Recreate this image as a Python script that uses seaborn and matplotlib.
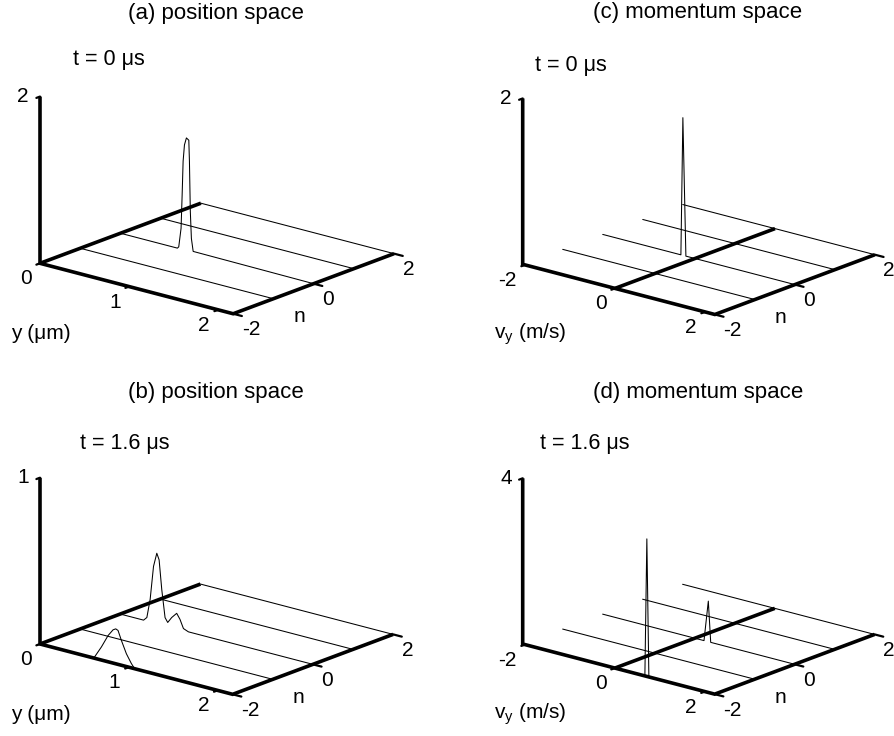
import numpy as np
import matplotlib
matplotlib.use("Agg")
import matplotlib.pyplot as plt
import seaborn as sns
from mpl_toolkits.mplot3d import Axes3D  # noqa: F401

W, H, DPI = 895, 736, 100

# ------------------------------------------------------------------ data
n_orders = [-2, -1, 0, 1, 2]
n_ticks = [-2, 0, 2]

y_lim = [0.0, 2.17]          # position axis (um)
v_lim = [-2.05, 2.22]        # velocity axis (m/s)
y_ticks = [0, 1, 2]
v_ticks = [-2, 0, 2]

flat_y = [0.0, 2.17]
flat_v = [-2.05, 2.22]
flat_z = [0.0, 0.0]

# (a) position space, t = 0 us : peak on the n = 0 line
a_n0_y = [0.0, 0.64, 0.655, 0.681, 0.693, 0.704, 0.719, 0.741, 0.768,
          0.775, 0.785, 0.797, 0.817, 2.17]
a_n0_z = [0.0, 0.0, 0.02, 0.25, 0.65, 1.06, 1.26, 1.35, 1.33,
          1.08, 0.48, 0.16, 0.01, 0.0]

# (b) position space, t = 1.6 us
b_nm2_y = [0.0, 0.60, 0.617, 0.692, 0.767, 0.823, 0.853, 0.879, 0.917,
           0.973, 1.029, 1.066, 2.17]
b_nm2_z = [0.0, 0.0, 0.01, 0.079, 0.158, 0.20, 0.21, 0.204, 0.149,
           0.077, 0.026, 0.0, 0.0]
b_n0_y = [0.0, 0.263, 0.300, 0.337, 0.375, 0.412, 0.438, 0.468, 0.505,
          0.535, 0.580, 0.636, 0.673, 0.712, 0.768, 2.17]
b_n0_z = [0.0, 0.0, 0.021, 0.135, 0.339, 0.423, 0.387, 0.212, 0.049,
          0.024, 0.060, 0.093, 0.062, 0.012, 0.0, 0.0]

# (c) momentum space, t = 0 us
c_n0_v = [-2.05, -0.313, -0.269, -0.202, 2.22]
c_n0_z = [0.0, 0.0, 1.66, 0.0, 0.0]

# (d) momentum space, t = 1.6 us
d_nm2_v = [-2.05, 0.667, 0.711, 0.756, 2.22]
d_nm2_z = [0.0, 0.0, 3.32, 0.0, 0.0]
d_n0_v = [-2.05, 0.204, 0.300, 0.353, 2.22]
d_n0_z = [0.0, 0.0, 0.98, 0.0, 0.0]

z_max = {"a": 2, "b": 1, "c": 2, "d": 4}

# ------------------------------------------------------------------ style
sns.set_theme(style="white")
plt.rcParams["font.family"] = ["Liberation Sans", "DejaVu Sans"]
plt.rcParams["mathtext.fontset"] = "custom"
plt.rcParams["mathtext.rm"] = "Liberation Sans"
plt.rcParams["mathtext.it"] = "Liberation Sans:italic"
ink = sns.color_palette(["#000000"])[0]

FS_TITLE, FS_TIME, FS_TICK, FS_LAB = 16, 15.5, 15, 15
LW_AX, LW_CURVE, LW_TICK = 2.6, 0.75, 1.6

pos_label = "y (\u03bcm)"
mom_label = "v$_\\mathrm{y}$ (m/s)"

panels = [
    dict(key="a", title="(a) position space", time="t = 0 \u03bcs",
         xlim=y_lim, xticks=y_ticks, xlabel=pos_label, axis_at=0.0,
         curves={-2: (flat_y, flat_z), -1: (flat_y, flat_z), 0: (a_n0_y, a_n0_z),
                 1: (flat_y, flat_z), 2: (flat_y, flat_z)},
         corner=(40, 263.3), front_end=(233.3, 313.3),
         title_xy=(215.8, 13), time_xy=(73.3, 64.5)),
    dict(key="b", title="(b) position space", time="t = 1.6 \u03bcs",
         xlim=y_lim, xticks=y_ticks, xlabel=pos_label, axis_at=0.0,
         curves={-2: (b_nm2_y, b_nm2_z), -1: (flat_y, flat_z), 0: (b_n0_y, b_n0_z),
                 1: (flat_y, flat_z), 2: (flat_y, flat_z)},
         corner=(40, 644), front_end=(233.0, 693.0),
         title_xy=(215.8, 392.5), time_xy=(80, 449.3)),
    dict(key="c", title="(c) momentum space", time="t = 0 \u03bcs",
         xlim=v_lim, xticks=v_ticks, xlabel=mom_label, axis_at=0.0,
         curves={-2: (flat_v, flat_z), -1: (flat_v, flat_z), 0: (c_n0_v, c_n0_z),
                 1: (flat_v, flat_z), 2: (flat_v, flat_z)},
         corner=(522.7, 264.3), front_end=(715.0, 314.0),
         title_xy=(697.5, 12.5), time_xy=(535, 70.7)),
    dict(key="d", title="(d) momentum space", time="t = 1.6 \u03bcs",
         xlim=v_lim, xticks=v_ticks, xlabel=mom_label, axis_at=0.0,
         curves={-2: (d_nm2_v, d_nm2_z), -1: (flat_v, flat_z), 0: (d_n0_v, d_n0_z),
                 1: (flat_v, flat_z), 2: (flat_v, flat_z)},
         corner=(522.7, 644), front_end=(715.0, 693.0),
         title_xy=(698, 392.5), time_xy=(540, 449.3)),
]

fig = plt.figure(figsize=(W / DPI, H / DPI), dpi=DPI)
fig.patch.set_facecolor("white")

SIDE0 = 400.0
axes = []
for i, p in enumerate(panels):
    ax = fig.add_axes([0.05 + 0.45 * (i // 2), 0.05, SIDE0 / W, SIDE0 / H],
                      projection="3d", proj_type="ortho")
    ax.patch.set_visible(False)
    ax.set_axis_off()
    zmax = z_max[p["key"]]
    x0, x1 = p["xlim"]
    # waterfall curves
    for n in n_orders:
        xs, zs = p["curves"][n]
        ax.plot(xs, [n] * len(xs), zs, color=ink, lw=LW_CURVE, zorder=2)
    # thick axes: vertical, front (n=-2), right (x = xmax)
    ax.plot([x0, x0, x1, x1], [-2, -2, -2, 2], [zmax, 0, 0, 0],
            color=ink, lw=LW_AX, zorder=3, solid_joinstyle="miter",
            solid_capstyle="butt")
    # n-axis at x = 0
    ax.plot([p["axis_at"]] * 2, [-2, 2], [0, 0], color=ink, lw=LW_AX,
            zorder=3, solid_capstyle="butt")
    # tick marks
    for t in p["xticks"]:
        ax.plot([t, t], [-2, -2.09], [0, 0], color=ink, lw=LW_TICK, zorder=3)
    for t in n_ticks:
        dx = 0.045 * (x1 - x0)
        ax.plot([x1, x1 + dx], [t, t], [0, 0], color=ink, lw=LW_TICK, zorder=3)
    ax.plot([x0, x0], [-2, -2.09], [zmax, zmax], color=ink, lw=LW_TICK, zorder=3)

    ax.set_xlim(x0, x1)
    ax.set_ylim(-2, 2)
    ax.set_zlim(0, zmax)
    ax.view_init(elev=18.2, azim=-50.1)
    ax.set_box_aspect((1.0, 0.996, 0.697))
    axes.append(ax)

fig.canvas.draw()


def to_px(ax, x, y, z):
    M = ax.get_proj()
    q = M @ np.array([x, y, z, 1.0])
    return np.array(ax.transData.transform((q[0] / q[3], q[1] / q[3])))


def img(pt):
    return np.array([pt[0], H - pt[1]])


# calibrate each 3D box onto its place in the figure
for ax, p in zip(axes, panels):
    x0, x1 = p["xlim"]
    c_cur = to_px(ax, x0, -2, 0)
    f_cur = to_px(ax, x1, -2, 0)
    c_t = img(p["corner"])
    f_t = img(p["front_end"])
    s = np.linalg.norm(f_t - c_t) / np.linalg.norm(f_cur - c_cur)
    bb = ax.get_position()
    side = bb.width * W
    centre = np.array([(bb.x0 + bb.width / 2) * W, (bb.y0 + bb.height / 2) * H])
    new_c = c_t - s * (c_cur - centre)
    ns = side * s
    ax.set_position([(new_c[0] - ns / 2) / W, (new_c[1] - ns / 2) / H, ns / W, ns / H])

fig.canvas.draw()


def label(ax, xyz, off, s, ha, va, fs):
    d = to_px(ax, *xyz)
    fig.text((d[0] + off[0]) / W, (d[1] - off[1]) / H, s, ha=ha, va=va,
             fontsize=fs, color=ink)


for ax, p in zip(axes, panels):
    x0, x1 = p["xlim"]
    zmax = z_max[p["key"]]
    for t in p["xticks"]:
        label(ax, (t, -2, 0), (-8.5, 15.5), str(t), "right", "center", FS_TICK)
    for t in n_ticks:
        label(ax, (x1, t, 0), (8.5, 16), str(t), "left", "center", FS_TICK)
    label(ax, (x0, -2, zmax), (-11, 0), str(zmax), "right", "center", FS_TICK)
    label(ax, (x0, -2, 0), (-29, 70), p["xlabel"], "left", "center", FS_LAB)
    label(ax, (x1, 0, 0), (-14.5, 33), "n", "center", "center", FS_LAB)
    tx, ty = p["title_xy"]
    fig.text(tx / W, 1 - ty / H, p["title"], ha="center", va="center",
             fontsize=FS_TITLE, color=ink)
    tx, ty = p["time_xy"]
    fig.text(tx / W, 1 - ty / H, p["time"], ha="left", va="baseline",
             fontsize=FS_TIME, color=ink)

fig.savefig("out.png", dpi=DPI, facecolor="white")
